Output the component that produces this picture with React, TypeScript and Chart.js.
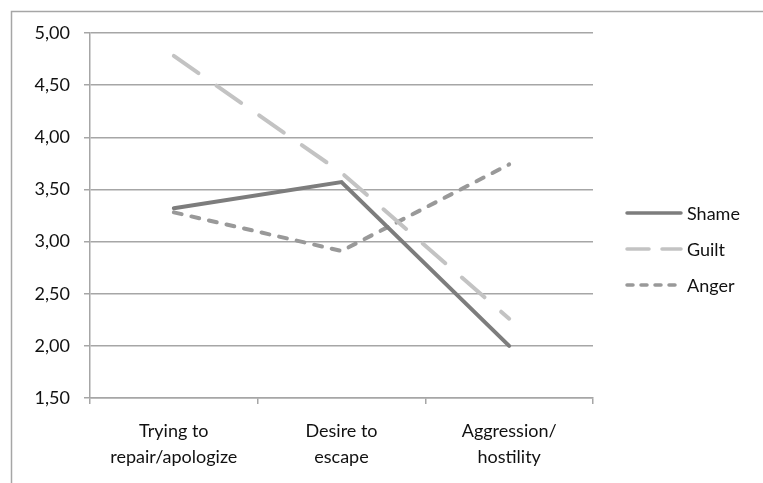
import React, { useEffect, useRef } from "react";
import { Chart, registerables } from "chart.js";

Chart.register(...registerables);

const categories: string[][] = [
  ["Trying to", "repair/apologize"],
  ["Desire to", "escape"],
  ["Aggression/", "hostility"],
];
const shame: number[] = [3.32, 3.57, 2.0];
const guilt: number[] = [4.78, 3.66, 2.26];
const anger: number[] = [3.28, 2.91, 3.74];
const seriesNames: string[] = ["Shame", "Guilt", "Anger"];
const yMin = 1.5;
const yMax = 5.0;
const yStep = 0.5;

const FONT = "Lato, 'Open Sans', sans-serif";
const GRID = "#a6a6a6";
const TEXT = "#111111";

const colors = ["#7d7d7d", "#c3c3c3", "#999999"];
const dashes: number[][] = [[], [30, 22], [8, 10]];
const legendDashes: number[][] = [[], [22, 13], [6, 8]];

const framePlugin = {
  id: "frame",
  beforeDraw(chart: any) {
    const ctx = chart.ctx;
    ctx.save();
    ctx.fillStyle = "#ffffff";
    ctx.fillRect(0, 0, chart.width, chart.height);
    ctx.strokeStyle = GRID;
    ctx.lineWidth = 1.5;
    ctx.beginPath();
    ctx.moveTo(11.5, chart.height);
    ctx.lineTo(11.5, 11.5);
    ctx.lineTo(chart.width, 11.5);
    ctx.stroke();
    ctx.restore();
  },
  afterDraw(chart: any) {
    const ctx = chart.ctx;
    ctx.save();
    const x0 = 627;
    const x1 = 681;
    const ys = [213, 249, 285];
    chart.data.datasets.forEach((ds: any, i: number) => {
      const y = ys[i];
      ctx.strokeStyle = colors[i];
      ctx.lineWidth = 3.5;
      ctx.lineCap = "round";
      ctx.setLineDash(legendDashes[i]);
      ctx.beginPath();
      ctx.moveTo(x0, y);
      ctx.lineTo(x1, y);
      ctx.stroke();
      ctx.setLineDash([]);
      ctx.fillStyle = TEXT;
      ctx.font = `18px ${FONT}`;
      ctx.textBaseline = "middle";
      ctx.textAlign = "left";
      ctx.fillText(ds.label, 687, y + 1);
    });
    ctx.restore();
  },
};

export default function App() {
  const ref = useRef<HTMLCanvasElement | null>(null);
  useEffect(() => {
    if (!ref.current) return;
    const data = [shame, guilt, anger];
    const chart = new Chart(ref.current, {
      type: "line",
      data: {
        labels: categories,
        datasets: data.map((d, i) => ({
          label: seriesNames[i],
          data: d,
          borderColor: colors[i],
          backgroundColor: colors[i],
          borderWidth: 4,
          borderDash: dashes[i],
          borderCapStyle: "round" as const,
          borderJoinStyle: "miter" as const,
          pointRadius: 0,
          tension: 0,
          fill: false,
        })),
      },
      options: {
        animation: false,
        responsive: false,
        maintainAspectRatio: false,
        layout: { padding: { left: 0, top: 33, right: 170, bottom: 0 } },
        plugins: { legend: { display: false }, tooltip: { enabled: false } },
        scales: {
          x: {
            type: "category",
            offset: true,
            grid: {
              offset: true,
              drawOnChartArea: false,
              drawTicks: true,
              tickLength: 6,
              color: GRID,
              lineWidth: 1.5,
            },
            border: { display: true, color: GRID, width: 1.5 },
            ticks: {
              color: TEXT,
              font: { family: FONT, size: 18, lineHeight: 1.45 },
              padding: 14,
              maxRotation: 0,
              autoSkip: false,
            },
            afterFit: (scale: any) => {
              scale.height = 85;
            },
          },
          y: {
            min: yMin,
            max: yMax,
            grid: {
              color: GRID,
              lineWidth: 1.5,
              drawTicks: true,
              tickLength: 6,
            },
            border: { display: true, color: GRID, width: 1.5 },
            ticks: {
              stepSize: yStep,
              color: TEXT,
              font: { family: FONT, size: 18 },
              padding: 14,
              callback: (v: any) => Number(v).toFixed(2).replace(".", ","),
            },
            afterFit: (scale: any) => {
              scale.width = 90;
            },
          },
        },
      },
      plugins: [framePlugin],
    });
    return () => chart.destroy();
  }, []);
  return (
    <div style={{ position: "absolute", left: 0, top: 0, width: 763, height: 483 }}>
      <canvas ref={ref} width={763} height={483} style={{ width: 763, height: 483 }} />
    </div>
  );
}
